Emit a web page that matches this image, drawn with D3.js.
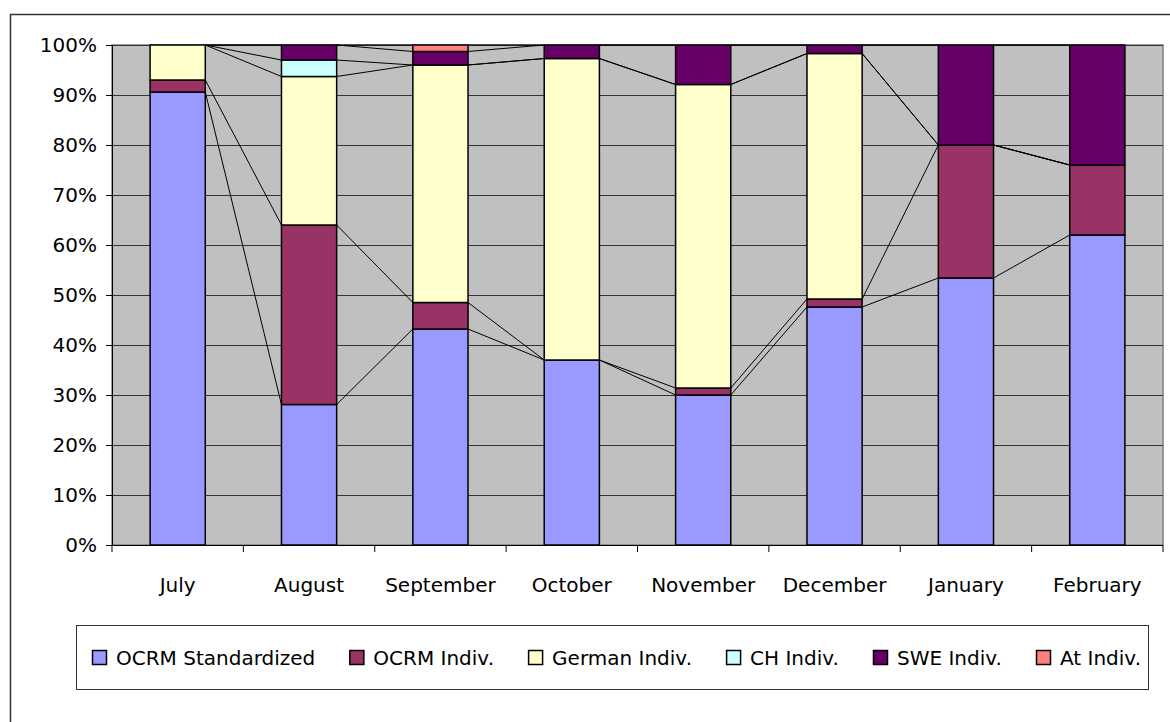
<!DOCTYPE html>
<html>
<head>
<meta charset="utf-8">
<script src="https://cdn.jsdelivr.net/npm/d3@7"></script>
<style>
  body { margin: 0; background: #fff; }
  svg { display: block; font-family: "DejaVu Sans", Verdana, sans-serif; }
</style>
</head>
<body>
<div id="chart-area"></div>
<script>
// months along the x axis
var months = ["July", "August", "September", "October", "November", "December", "January", "February"];

// share of each series per month (percent)
var ocrmStandardized = [90.6, 28.1, 43.2, 37.0, 30.0, 47.6, 53.4, 62.0];
var ocrmIndiv        = [2.4, 35.9, 5.3, 0, 1.4, 1.6, 26.6, 14.0];
var germanIndiv      = [7.0, 29.7, 47.5, 60.3, 60.7, 49.1, 0, 0];
var chIndiv          = [0, 3.3, 0, 0, 0, 0, 0, 0];
var sweIndiv         = [0, 3.0, 2.7, 2.7, 7.9, 1.7, 20.0, 24.0];
var atIndiv          = [0, 0, 1.3, 0, 0, 0, 0, 0];

var seriesNames = ["OCRM Standardized", "OCRM Indiv.", "German Indiv.", "CH Indiv.", "SWE Indiv.", "At Indiv."];
var seriesColors = ["#9999FF", "#993366", "#FFFFCC", "#CCFFFF", "#660066", "#FF8080"];
var yTicks = [0, 10, 20, 30, 40, 50, 60, 70, 80, 90, 100];

var allSeries = [ocrmStandardized, ocrmIndiv, germanIndiv, chIndiv, sweIndiv, atIndiv];

// build rows for d3.stack
var rows = months.map(function(m, i) {
  var r = { month: m };
  seriesNames.forEach(function(s, j) { r[s] = allSeries[j][i]; });
  return r;
});

var W = 1170, H = 722;
var margin = { left: 112, top: 45, right: 7, bottom: 177 };
var width = W - margin.left - margin.right;
var height = H - margin.top - margin.bottom;
var fontSize = "20px";

var svg = d3.select("#chart-area")
  .append("svg")
  .attr("width", W)
  .attr("height", H);

// outer chart frame (runs off the right/bottom)
svg.append("rect")
  .attr("x", 10.5).attr("y", 14.5)
  .attr("width", 1200).attr("height", 800)
  .attr("fill", "#fff")
  .attr("stroke", "#333")
  .attr("stroke-width", 1.5);

var g = svg.append("g")
  .attr("transform", "translate(" + margin.left + "," + margin.top + ")");

var x = d3.scaleBand().domain(months).range([0, width]).padding(0);
var y = d3.scaleLinear().domain([0, 100]).range([height, 0]);

var barOff = x.bandwidth() * 0.29;
var barW = x.bandwidth() * 0.42;

// plot background
g.append("rect")
  .attr("width", width).attr("height", height)
  .attr("fill", "#C0C0C0")
  .attr("stroke", "#808080")
  .attr("stroke-width", 1.5);

// gridlines
g.selectAll("line.grid")
  .data(yTicks.filter(function(d) { return d > 0; }))
  .enter().append("line")
  .attr("class", "grid")
  .attr("x1", 0).attr("x2", width)
  .attr("y1", function(d) { return Math.round(y(d)) + 0.5; })
  .attr("y2", function(d) { return Math.round(y(d)) + 0.5; })
  .attr("stroke", "#333")
  .attr("stroke-width", 1.2);

var stack = d3.stack().keys(seriesNames);
var stacked = stack(rows);

// series lines between adjacent bars
var lineG = g.append("g");
stacked.forEach(function(layer) {
  for (var i = 0; i < layer.length - 1; i++) {
    lineG.append("line")
      .attr("x1", x(months[i]) + barOff + barW)
      .attr("y1", y(layer[i][1]))
      .attr("x2", x(months[i + 1]) + barOff)
      .attr("y2", y(layer[i + 1][1]))
      .attr("stroke", "#000")
      .attr("stroke-width", 1);
  }
});

// bars
var layers = g.selectAll("g.layer")
  .data(stacked)
  .enter().append("g")
  .attr("class", "layer")
  .attr("fill", function(d, i) { return seriesColors[i]; });

layers.selectAll("rect")
  .data(function(d) { return d.filter(function(p) { return p[1] - p[0] > 0; }); })
  .enter().append("rect")
  .attr("x", function(d) { return x(d.data.month) + barOff; })
  .attr("y", function(d) { return y(d[1]); })
  .attr("width", barW)
  .attr("height", function(d) { return y(d[0]) - y(d[1]); })
  .attr("stroke", "#000")
  .attr("stroke-width", 1.5);

// y axis
var yAxis = g.append("g")
  .call(d3.axisLeft(y).tickValues(yTicks).tickSize(6).tickPadding(9)
    .tickFormat(function(d) { return d + "%"; }));
yAxis.select(".domain").attr("stroke", "#000");
yAxis.selectAll(".tick line").attr("stroke", "#000");
yAxis.selectAll("text")
  .attr("font-size", fontSize)
  .attr("font-family", "DejaVu Sans, Verdana, sans-serif")
  .attr("fill", "#000");

// x axis: ticks at category boundaries
var xAxisG = g.append("g").attr("transform", "translate(0," + height + ")");
xAxisG.append("line")
  .attr("x1", 0).attr("x2", width)
  .attr("y1", 0.5).attr("y2", 0.5)
  .attr("stroke", "#000");
var bounds = months.map(function(m) { return x(m); }).concat([width]);
xAxisG.selectAll("line.tk")
  .data(bounds)
  .enter().append("line")
  .attr("class", "tk")
  .attr("x1", function(d) { return d; }).attr("x2", function(d) { return d; })
  .attr("y1", 0).attr("y2", 7)
  .attr("stroke", "#000");
xAxisG.selectAll("text")
  .data(months)
  .enter().append("text")
  .attr("x", function(d) { return x(d) + x.bandwidth() / 2; })
  .attr("y", 47)
  .attr("text-anchor", "middle")
  .attr("font-size", fontSize)
  .text(function(d) { return d; });

// legend
var legend = svg.append("g");
legend.append("rect")
  .attr("x", 76.5).attr("y", 625.5)
  .attr("width", 1072).attr("height", 64)
  .attr("fill", "#fff")
  .attr("stroke", "#333")
  .attr("stroke-width", 1);

var items = seriesNames.map(function(s, i) {
  var item = legend.append("g");
  item.append("rect")
    .attr("y", 650.5)
    .attr("width", 14).attr("height", 14)
    .attr("fill", seriesColors[i])
    .attr("stroke", "#000")
    .attr("stroke-width", 1.5);
  var t = item.append("text")
    .attr("y", 665)
    .attr("font-size", fontSize)
    .text(s);
  return { g: item, w: t.node().getComputedTextLength() };
});

// spread the entries between the left swatch and the right edge of the box
var lx0 = 92, lx1 = 1141, swGap = 24;
var used = d3.sum(items, function(d) { return swGap + d.w; });
var gap = (lx1 - lx0 - used) / (items.length - 1);
var lx = lx0;
items.forEach(function(d) {
  d.g.select("rect").attr("x", lx + 0.5);
  d.g.select("text").attr("x", lx + swGap);
  lx += swGap + d.w + gap;
});
</script>
</body>
</html>
